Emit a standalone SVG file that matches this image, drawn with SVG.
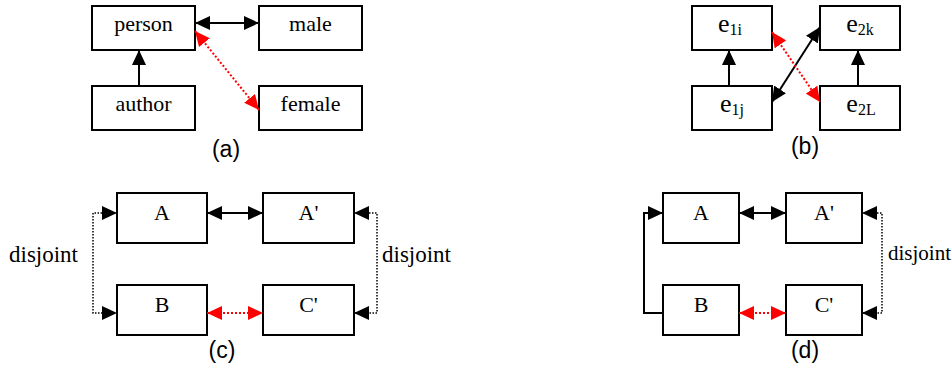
<svg xmlns="http://www.w3.org/2000/svg" width="952" height="369" viewBox="0 0 952 369">
  <style>
    .box { fill: #fff; stroke: #000; stroke-width: 2; }
    .solid { fill: none; stroke: #000; stroke-width: 2; }
    .red { fill: none; stroke: #f00; stroke-width: 2; stroke-dasharray: 2 2; }
    .dot { fill: none; stroke: #000; stroke-width: 1.5; stroke-dasharray: 1.5 1.5; }
  </style>
  <defs>
    <marker id="ab" markerUnits="userSpaceOnUse" markerWidth="15" markerHeight="14" refX="15" refY="7" orient="auto-start-reverse">
      <path d="M0,0 L15,7 L0,14 z" fill="#000"/>
    </marker>
    <marker id="ar" markerUnits="userSpaceOnUse" markerWidth="15" markerHeight="14" refX="15" refY="7" orient="auto-start-reverse">
      <path d="M0,0 L15,7 L0,14 z" fill="#f00"/>
    </marker>
  </defs>

  <!-- node labels in a serif face -->
  <g font-family="Liberation Serif, Times New Roman, DejaVu Serif, serif" font-size="22" text-anchor="middle" fill="#000">
    <!-- panel (a) -->
    <g id="person"><rect class="box" x="92" y="6" width="103" height="44"/><text x="143.5" y="31">person</text></g>
    <g id="male"><rect class="box" x="259" y="6" width="103" height="44"/><text x="310.5" y="31">male</text></g>
    <g id="author"><rect class="box" x="92" y="86" width="103" height="44"/><text x="143.5" y="111">author</text></g>
    <g id="female"><rect class="box" x="259" y="86" width="103" height="44"/><text x="310.5" y="111">female</text></g>

    <!-- panel (b) -->
    <g id="e1i"><rect class="box" x="692" y="6" width="80" height="44"/><text x="730" y="32"><tspan font-size="26">e</tspan><tspan font-size="16" dy="3">1i</tspan></text></g>
    <g id="e2k"><rect class="box" x="820" y="6" width="80" height="44"/><text x="860" y="32"><tspan font-size="26">e</tspan><tspan font-size="16" dy="3">2k</tspan></text></g>
    <g id="e1j"><rect class="box" x="692" y="86" width="80" height="44"/><text x="732" y="112"><tspan font-size="26">e</tspan><tspan font-size="16" dy="3">1j</tspan></text></g>
    <g id="e2L"><rect class="box" x="820" y="86" width="80" height="44"/><text x="861" y="112"><tspan font-size="26">e</tspan><tspan font-size="16" dy="3">2L</tspan></text></g>

    <!-- panel (c) -->
    <g id="cA"><rect class="box" x="117" y="193" width="90" height="50"/><text x="162" y="220">A</text></g>
    <g id="cA2"><rect class="box" x="263" y="193" width="91" height="50"/><text x="308.5" y="220">A'</text></g>
    <g id="cB"><rect class="box" x="117" y="285" width="90" height="50"/><text x="162" y="312">B</text></g>
    <g id="cC2"><rect class="box" x="263" y="285" width="91" height="50"/><text x="308.5" y="312">C'</text></g>

    <!-- panel (d) -->
    <g id="dA"><rect class="box" x="663" y="193" width="76" height="50"/><text x="701" y="220">A</text></g>
    <g id="dA2"><rect class="box" x="786" y="193" width="76" height="50"/><text x="824" y="220">A'</text></g>
    <g id="dB"><rect class="box" x="663" y="285" width="76" height="50"/><text x="701" y="312">B</text></g>
    <g id="dC2"><rect class="box" x="786" y="285" width="76" height="50"/><text x="824" y="312">C'</text></g>
  </g>

  <g id="connectors">
    <!-- (a) -->
    <line class="solid" x1="195" y1="23" x2="259" y2="23" marker-start="url(#ab)" marker-end="url(#ab)"/>
    <line class="solid" x1="139" y1="86" x2="139" y2="50" marker-end="url(#ab)"/>
    <line class="red" x1="195" y1="31" x2="259" y2="110" marker-start="url(#ar)" marker-end="url(#ar)"/>
    <!-- (b) -->
    <line class="solid" x1="729" y1="86" x2="729" y2="50" marker-end="url(#ab)"/>
    <line class="solid" x1="858" y1="86" x2="858" y2="50" marker-end="url(#ab)"/>
    <line class="solid" x1="772" y1="102" x2="820" y2="27" marker-start="url(#ab)" marker-end="url(#ab)"/>
    <line class="red" x1="772" y1="32" x2="820" y2="102" marker-start="url(#ar)" marker-end="url(#ar)"/>
    <!-- (c) -->
    <line class="solid" x1="207" y1="213" x2="263" y2="213" marker-start="url(#ab)" marker-end="url(#ab)"/>
    <line class="red" x1="207" y1="313" x2="263" y2="313" marker-start="url(#ar)" marker-end="url(#ar)"/>
    <polyline class="dot" points="117,213 93,213 93,313 117,313" marker-start="url(#ab)" marker-end="url(#ab)"/>
    <polyline class="dot" points="354,213 377,213 377,313 354,313" marker-start="url(#ab)" marker-end="url(#ab)"/>
    <!-- (d) -->
    <line class="solid" x1="739" y1="213" x2="786" y2="213" marker-start="url(#ab)" marker-end="url(#ab)"/>
    <line class="red" x1="739" y1="313" x2="786" y2="313" marker-start="url(#ar)" marker-end="url(#ar)"/>
    <polyline class="solid" points="663,313 644,313 644,213 663,213" marker-end="url(#ab)"/>
    <polyline class="dot" points="862,213 882,213 882,313 862,313" marker-start="url(#ab)" marker-end="url(#ab)"/>
  </g>

  <!-- edge labels -->
  <g font-family="Liberation Serif, Times New Roman, DejaVu Serif, serif" font-size="23" fill="#000">
    <text x="9" y="262">disjoint</text>
    <text x="382" y="262">disjoint</text>
    <text x="888" y="260" font-size="21">disjoint</text>
  </g>

  <!-- panel captions -->
  <g font-family="Liberation Sans, Arial, sans-serif" font-size="23" text-anchor="middle" fill="#000">
    <text x="226" y="157">(a)</text>
    <text x="805" y="154">(b)</text>
    <text x="222" y="358">(c)</text>
    <text x="805" y="358">(d)</text>
  </g>
</svg>
